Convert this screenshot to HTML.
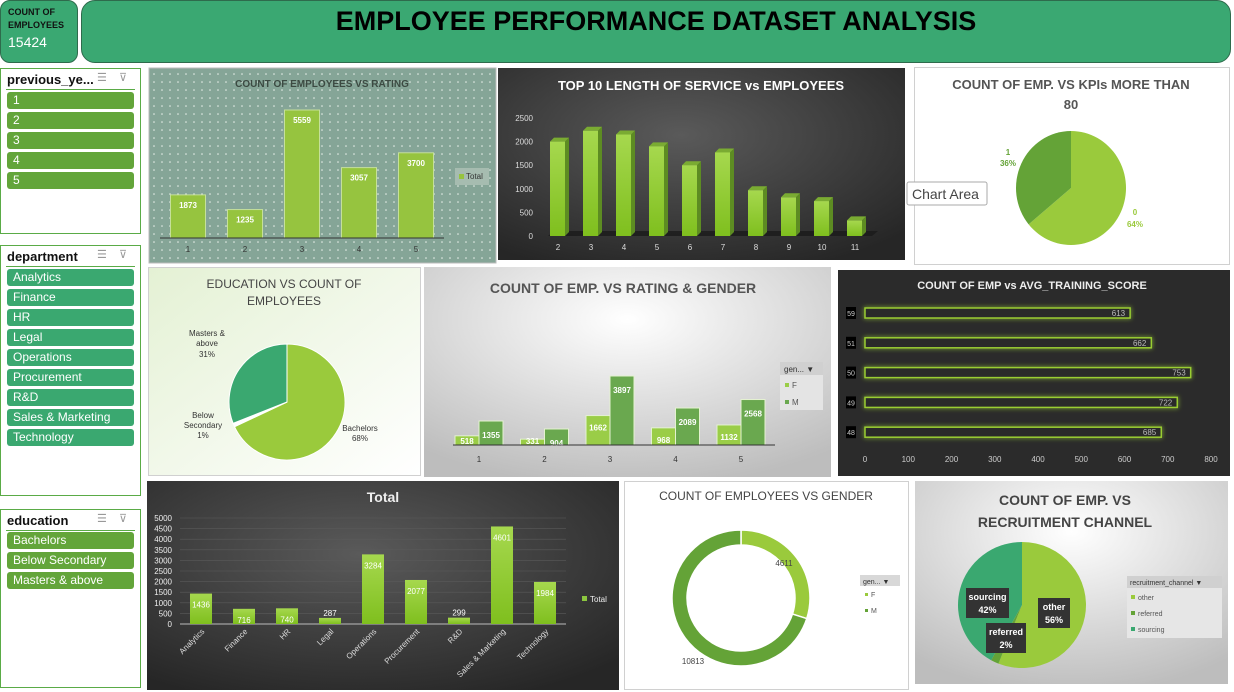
<!DOCTYPE html>
<html><head><meta charset="utf-8">
<style>
body{margin:0;width:1234px;height:692px;overflow:hidden;background:#fff;font-family:"Liberation Sans",sans-serif;position:relative}
.abs{position:absolute}
.slicer{position:absolute;left:0;width:139px;border:1px solid #5aab46;background:#fff}
.slicer .hd{position:absolute;left:6px;top:3px;font-weight:bold;font-size:13px;color:#111}
.slicer .ln{position:absolute;left:5px;right:5px;top:20px;border-top:1px solid #5aab46}
.slicer .ic{position:absolute;top:2px;font-size:11px;color:#999}
.item{position:absolute;left:6px;width:127px;height:17px;border-radius:3px;color:#fff;font-size:12px;line-height:17px;padding-left:6px;box-sizing:border-box}
</style></head><body>
<div class="abs" style="left:0;top:0;width:76px;height:61px;background:#3aa872;border:1px solid #2e6b4c;border-radius:10px;">
 <div style="position:absolute;left:7px;top:5px;font-size:9px;font-weight:bold;line-height:13px;color:#111">COUNT OF<br>EMPLOYEES</div>
 <div style="position:absolute;left:7px;top:33px;font-size:14px;color:#fff">15424</div>
</div>
<div class="abs" style="left:81px;top:0;width:1148px;height:61px;background:#3aa872;border:1px solid #2e6b4c;border-radius:14px;text-align:center;font-weight:bold;font-size:27px;line-height:40px;color:#000">EMPLOYEE PERFORMANCE DATASET ANALYSIS</div>

<div class="slicer" style="top:68px;height:164px">
 <div class="hd">previous_ye...</div>
 <div class="ic" style="left:96px">☰</div>
 <div class="ic" style="left:118px">⊽</div>
 <div class="ln"></div>
 <div class="item" style="top:23px;background:#63a53a">1</div>
 <div class="item" style="top:43px;background:#63a53a">2</div>
 <div class="item" style="top:63px;background:#63a53a">3</div>
 <div class="item" style="top:83px;background:#63a53a">4</div>
 <div class="item" style="top:103px;background:#63a53a">5</div>
</div>
<div class="slicer" style="top:245px;height:249px">
 <div class="hd">department</div>
 <div class="ic" style="left:96px">☰</div>
 <div class="ic" style="left:118px">⊽</div>
 <div class="ln"></div>
 <div class="item" style="top:23px;background:#3aa870">Analytics</div>
 <div class="item" style="top:43px;background:#3aa870">Finance</div>
 <div class="item" style="top:63px;background:#3aa870">HR</div>
 <div class="item" style="top:83px;background:#3aa870">Legal</div>
 <div class="item" style="top:103px;background:#3aa870">Operations</div>
 <div class="item" style="top:123px;background:#3aa870">Procurement</div>
 <div class="item" style="top:143px;background:#3aa870">R&amp;D</div>
 <div class="item" style="top:163px;background:#3aa870">Sales &amp; Marketing</div>
 <div class="item" style="top:183px;background:#3aa870">Technology</div>
</div>
<div class="slicer" style="top:509px;height:177px">
 <div class="hd">education</div>
 <div class="ic" style="left:96px">☰</div>
 <div class="ic" style="left:118px">⊽</div>
 <div class="ln"></div>
 <div class="item" style="top:22px;background:#63a53a">Bachelors</div>
 <div class="item" style="top:42px;background:#63a53a">Below Secondary</div>
 <div class="item" style="top:62px;background:#63a53a">Masters &amp; above</div>
</div>

<svg id="s" class="abs" style="left:0;top:0" width="1234" height="692" xmlns="http://www.w3.org/2000/svg" font-family="Liberation Sans, sans-serif">
<defs>
 <pattern id="dots" width="8" height="8" patternUnits="userSpaceOnUse"><rect width="8" height="8" fill="#85a597"/><circle cx="2" cy="2" r="0.8" fill="#e8f0ea"/></pattern>
 <radialGradient id="dark1" cx="45%" cy="35%" r="75%"><stop offset="0" stop-color="#5a5a5a"/><stop offset="1" stop-color="#262626"/></radialGradient>
 <radialGradient id="gray1" cx="50%" cy="25%" r="80%"><stop offset="0" stop-color="#ffffff"/><stop offset="1" stop-color="#bdbdbd"/></radialGradient>
 <linearGradient id="lg1" x1="0" y1="0" x2="1" y2="1"><stop offset="0" stop-color="#e4f1d4"/><stop offset="1" stop-color="#ffffff"/></linearGradient>
 <linearGradient id="barg" x1="0" y1="0" x2="0" y2="1"><stop offset="0" stop-color="#a6d84e"/><stop offset="1" stop-color="#7fbf1e"/></linearGradient>
 <filter id="glow" x="-10%" y="-80%" width="120%" height="260%"><feGaussianBlur stdDeviation="2.5" result="b"/><feMerge><feMergeNode in="b"/><feMergeNode in="SourceGraphic"/></feMerge></filter>
</defs>
<rect x="149" y="68" width="347" height="195" fill="url(#dots)" stroke="#bbb"/>
<rect x="498" y="68" width="407" height="192" fill="url(#dark1)"/>
<rect x="914.5" y="67.5" width="315" height="197" fill="#fff" stroke="#d0d0d0"/>
<rect x="148.5" y="267.5" width="272" height="208" fill="url(#lg1)" stroke="#d0d0d0"/>
<rect x="424" y="267" width="407" height="210" fill="url(#gray1)"/>
<rect x="838" y="270" width="392" height="206" fill="#2b2b2b"/>
<rect x="147" y="481" width="472" height="209" fill="url(#dark1)"/>
<rect x="624.5" y="481.5" width="284" height="208" fill="#fff" stroke="#d0d0d0"/>
<rect x="915" y="481" width="313" height="203" fill="url(#gray1)"/>

<text x="322" y="87" text-anchor="middle" font-size="10" font-weight="bold" fill="#3c4a42">COUNT OF EMPLOYEES VS RATING</text>
<text x="701" y="90" text-anchor="middle" font-size="13" font-weight="bold" fill="#fff">TOP 10 LENGTH OF SERVICE vs EMPLOYEES</text>
<text x="1071" y="89" text-anchor="middle" font-size="13" font-weight="bold" fill="#555">COUNT OF EMP. VS KPIs MORE THAN</text>
<text x="1071" y="109" text-anchor="middle" font-size="13" font-weight="bold" fill="#555">80</text>
<text x="284" y="288" text-anchor="middle" font-size="12" fill="#444">EDUCATION VS COUNT OF</text>
<text x="284" y="305" text-anchor="middle" font-size="12" fill="#444">EMPLOYEES</text>
<text x="623" y="293" text-anchor="middle" font-size="14" font-weight="bold" fill="#555">COUNT OF EMP. VS RATING &amp; GENDER</text>
<text x="1032" y="289" text-anchor="middle" font-size="11" font-weight="bold" fill="#eee">COUNT OF EMP vs AVG_TRAINING_SCORE</text>
<text x="383" y="502" text-anchor="middle" font-size="14" font-weight="bold" fill="#eee">Total</text>
<text x="766" y="500" text-anchor="middle" font-size="12" fill="#444">COUNT OF EMPLOYEES VS GENDER</text>
<text x="1065" y="505" text-anchor="middle" font-size="14" font-weight="bold" fill="#444">COUNT OF EMP. VS</text>
<text x="1065" y="527" text-anchor="middle" font-size="14" font-weight="bold" fill="#444">RECRUITMENT CHANNEL</text>
<g id="layer"></g>
</svg>

<script>
// ---- data ----
const ratingCats = ["1","2","3","4","5"];
const ratingVals = [1873,1235,5559,3057,3700];
const serviceCats = ["2","3","4","5","6","7","8","9","10","11"];
const serviceVals = [2000,2230,2150,1900,1500,1770,970,820,740,330];
const serviceTicks = [0,500,1000,1500,2000,2500];
const kpiCats = ["0","1"];
const kpiVals = [64,36];
const eduCats = ["Bachelors","Below Secondary","Masters & above"];
const eduVals = [68,1,31];
const grCats = ["1","2","3","4","5"];
const grF = [518,331,1662,968,1132];
const grM = [1355,904,3897,2089,2568];
const trainCats = ["59","51","50","49","48"];
const trainVals = [613,662,753,722,685];
const trainTicks = [0,100,200,300,400,500,600,700,800];
const deptCats = ["Analytics","Finance","HR","Legal","Operations","Procurement","R&D","Sales & Marketing","Technology"];
const deptVals = [1436,716,740,287,3284,2077,299,4601,1984];
const deptTicks = [0,500,1000,1500,2000,2500,3000,3500,4000,4500,5000];
const genderCats = ["F","M"];
const genderVals = [4611,10813];
const recCats = ["other","referred","sourcing"];
const recVals = [56,2,42];

const NS="http://www.w3.org/2000/svg";
const layer=document.getElementById('layer');
function mk(tag,attrs,txt){const e=document.createElementNS(NS,tag);for(const k in attrs)e.setAttribute(k,attrs[k]);if(txt!==undefined)e.textContent=txt;layer.appendChild(e);return e;}
function arcPath(cx,cy,rx,ry,f0,f1,ir){
  const a0=f0*2*Math.PI-Math.PI/2,a1=f1*2*Math.PI-Math.PI/2,lg=(f1-f0)>0.5?1:0;
  const p=(a,r1,r2)=>[cx+r1*Math.cos(a),cy+r2*Math.sin(a)];
  const [x0,y0]=p(a0,rx,ry),[x1,y1]=p(a1,rx,ry);
  if(!ir) return `M${cx},${cy}L${x0},${y0}A${rx},${ry} 0 ${lg} 1 ${x1},${y1}Z`;
  const irx=rx-ir,iry=ry-ir;const [x2,y2]=p(a1,irx,iry),[x3,y3]=p(a0,irx,iry);
  return `M${x0},${y0}A${rx},${ry} 0 ${lg} 1 ${x1},${y1}L${x2},${y2}A${irx},${iry} 0 ${lg} 0 ${x3},${y3}Z`;
}

// ---- chart 1: rating ----
(function(){
  const base=238, h=v=>v*128/5559, x0=160, step=57;
  const cx=i=>x0+28+i*step;
  ratingCats.forEach((c,i)=>{
    const v=ratingVals[i];
    const r=mk('rect',{x:cx(i)-17.5,y:base-h(v),width:35,height:h(v),fill:'#96c43f',stroke:'#c5e09a'});
    
    
    mk('text',{x:cx(i),y:base-h(v)+13,'text-anchor':'middle','font-size':8,'font-weight':'bold',fill:'#fff'},v);
    mk('text',{x:cx(i),y:252,'text-anchor':'middle','font-size':8,fill:'#333'},c);
  });
  mk('line',{x1:160,y1:base,x2:444,y2:base,stroke:'#333','stroke-width':1});
  const lg=mk('rect',{x:455,y:168,width:34,height:17,fill:'#a6bcb0'});
  
  
  mk('rect',{x:459,y:174,width:5,height:5,fill:'#96c43f'});
  mk('text',{x:466,y:179,'font-size':8,fill:'#333'},'Total');
})();

// ---- chart 2: service 3D bars ----
(function(){
  const base=236, h=v=>v*118/2500, cx=i=>558+i*33;
  mk('path',{d:`M548,${base}L872,${base}L878,${base-5}L554,${base-5}Z`,fill:'#1a1a1a',opacity:0.8});
  serviceTicks.forEach(t=>mk('text',{x:533,y:base-h(t)+3,'text-anchor':'end','font-size':8,fill:'#ddd'},t));
  serviceCats.forEach((c,i)=>{
    const v=serviceVals[i],x=cx(i)-8,y=base-h(v);
    mk('path',{d:`M${x+15},${y}L${x+19},${y-4}L${x+19},${base-4}L${x+15},${base}Z`,fill:'#5d8c22'});
    mk('path',{d:`M${x},${y}L${x+4},${y-4}L${x+19},${y-4}L${x+15},${y}Z`,fill:'#7aab32'});
    const r=mk('rect',{x:x,y:y,width:15,height:h(v),fill:'url(#barg)'});
    
    
    mk('text',{x:cx(i),y:250,'text-anchor':'middle','font-size':8,fill:'#ddd'},c);
  });
})();

// ---- chart 3: KPI pie ----
(function(){
  const tot=kpiVals.reduce((a,b)=>a+b,0);
  const s0=mk('path',{d:arcPath(1071,188,55,57,0,kpiVals[0]/tot),fill:'#9aca3c'});
  
  
  const s1=mk('path',{d:arcPath(1071,188,55,57,kpiVals[0]/tot,1),fill:'#64a337'});
  
  
  mk('text',{x:1008,y:155,'text-anchor':'middle','font-size':8,'font-weight':'bold',fill:'#64a337'},kpiCats[1]);
  mk('text',{x:1008,y:166,'text-anchor':'middle','font-size':8,'font-weight':'bold',fill:'#64a337'},kpiVals[1]+'%');
  mk('text',{x:1135,y:215,'text-anchor':'middle','font-size':8,'font-weight':'bold',fill:'#9aca3c'},kpiCats[0]);
  mk('text',{x:1135,y:227,'text-anchor':'middle','font-size':8,'font-weight':'bold',fill:'#9aca3c'},kpiVals[0]+'%');
  const tt=mk('rect',{x:907,y:182,width:80,height:23,fill:'#fff',stroke:'#aaa',rx:2});
  
  
  mk('text',{x:912,y:199,'font-size':14,fill:'#444'},'Chart Area');
})();

// ---- chart 4: education pie ----
(function(){
  const tot=eduVals.reduce((a,b)=>a+b,0);const cols=['#9aca3c','#ffffff','#3aa870'];
  let f=0;
  eduCats.forEach((c,i)=>{
    const f1=f+eduVals[i]/tot;
    const p=mk('path',{d:arcPath(287,402,58,58,f,f1),fill:cols[i],stroke:'#fff','stroke-width':1});
    
    
    f=f1;
  });
  mk('text',{x:360,y:431,'text-anchor':'middle','font-size':8,fill:'#333'},'Bachelors');
  mk('text',{x:360,y:441,'text-anchor':'middle','font-size':8,fill:'#333'},eduVals[0]+'%');
  mk('text',{x:203,y:418,'text-anchor':'middle','font-size':8,fill:'#333'},'Below');
  mk('text',{x:203,y:428,'text-anchor':'middle','font-size':8,fill:'#333'},'Secondary');
  mk('text',{x:203,y:438,'text-anchor':'middle','font-size':8,fill:'#333'},eduVals[1]+'%');
  mk('text',{x:207,y:336,'text-anchor':'middle','font-size':8,fill:'#333'},'Masters &');
  mk('text',{x:207,y:346,'text-anchor':'middle','font-size':8,fill:'#333'},'above');
  mk('text',{x:207,y:357,'text-anchor':'middle','font-size':8,fill:'#333'},eduVals[2]+'%');
})();

// ---- chart 5: rating & gender ----
(function(){
  const base=445,h=v=>v*69/3897,cx=i=>479+i*65.5;
  grCats.forEach((c,i)=>{
    const f=mk('rect',{x:cx(i)-24,y:base-h(grF[i]),width:24,height:h(grF[i]),fill:'#9acd47',stroke:'#e4f2d0'});
    
    
    const m=mk('rect',{x:cx(i),y:base-h(grM[i]),width:24,height:h(grM[i]),fill:'#6aa84f',stroke:'#e4f2d0'});
    
    
    mk('text',{x:cx(i)-12,y:base-h(grF[i])+Math.min(15,h(grF[i])-1),'text-anchor':'middle','font-size':8,'font-weight':'bold',fill:'#fff'},grF[i]);
    mk('text',{x:cx(i)+12,y:base-h(grM[i])+17,'text-anchor':'middle','font-size':8,'font-weight':'bold',fill:'#fff'},grM[i]);
    mk('text',{x:cx(i),y:462,'text-anchor':'middle','font-size':8,fill:'#333'},c);
  });
  mk('line',{x1:453,y1:base,x2:775,y2:base,stroke:'#333'});
  const lg=mk('rect',{x:780,y:362,width:43,height:48,fill:'#e4e4e4'});
  
  
  mk('rect',{x:780,y:362,width:43,height:13,fill:'#d0d0d0'});
  mk('text',{x:784,y:372,'font-size':8,fill:'#333'},'gen... ▼');
  mk('rect',{x:785,y:383,width:4,height:4,fill:'#9acd47'});mk('text',{x:792,y:388,'font-size':8,fill:'#555'},'F');
  mk('rect',{x:785,y:400,width:4,height:4,fill:'#6aa84f'});mk('text',{x:792,y:405,'font-size':8,fill:'#555'},'M');
})();

// ---- chart 6: training score ----
(function(){
  const x0=865,w=v=>v*346/800,cy=i=>313+i*29.8;
  trainTicks.forEach(t=>mk('text',{x:x0+w(t),y:462,'text-anchor':'middle','font-size':8,fill:'#ccc'},t));
  trainCats.forEach((c,i)=>{
    const r=mk('rect',{x:x0,y:cy(i)-5,width:w(trainVals[i]),height:10,fill:'#2b2b2b',stroke:'#9acd32','stroke-width':1.5,filter:'url(#glow)'});
    
    
    mk('text',{x:x0+w(trainVals[i])-5,y:cy(i)+3,'text-anchor':'end','font-size':8,fill:'#bbb'},trainVals[i]);
    mk('rect',{x:846,y:cy(i)-6,width:10,height:12,fill:'#000'});
    mk('text',{x:851,y:cy(i)+3,'text-anchor':'middle','font-size':7,fill:'#ccc'},c);
  });
})();

// ---- chart 7: department ----
(function(){
  const base=624,h=v=>v*106/5000,cx=i=>201+i*43;
  deptTicks.forEach(t=>{
    mk('line',{x1:180,y1:base-h(t),x2:566,y2:base-h(t),stroke:'#5a5a5a','stroke-width':0.6});
    mk('text',{x:172,y:base-h(t)+3,'text-anchor':'end','font-size':8,fill:'#eee'},t);
  });
  mk('line',{x1:180,y1:base,x2:566,y2:base,stroke:'#bbb'});
  deptCats.forEach((c,i)=>{
    const v=deptVals[i];
    const r=mk('rect',{x:cx(i)-11,y:base-h(v),width:22,height:h(v),fill:'url(#barg)'});
    
    
    const small=h(v)<15;
    mk('text',{x:cx(i),y:small?base-h(v)-2:base-h(v)+14,'text-anchor':'middle','font-size':8,fill:'#fff'},v);
    mk('text',{x:cx(i)+4,y:base+8,'text-anchor':'end','font-size':8,fill:'#ddd',transform:`rotate(-45 ${cx(i)+4} ${base+8})`},c);
  });
  mk('rect',{x:582,y:596,width:5,height:5,fill:'#8cc63f'});
  mk('text',{x:590,y:602,'font-size':8,fill:'#eee'},'Total');
})();

// ---- chart 8: gender donut ----
(function(){
  const tot=genderVals.reduce((a,b)=>a+b,0);const cols=['#9aca3c','#64a337'];let f=0;
  genderCats.forEach((c,i)=>{
    const f1=f+genderVals[i]/tot;
    const p=mk('path',{d:arcPath(741,598,69,68,f,f1,15),fill:cols[i],stroke:'#fff','stroke-width':1.5});
    
    
    f=f1;
  });
  mk('text',{x:784,y:566,'text-anchor':'middle','font-size':8,fill:'#444'},genderVals[0]);
  mk('text',{x:693,y:664,'text-anchor':'middle','font-size':8,fill:'#444'},genderVals[1]);
  const lg=mk('rect',{x:860,y:575,width:40,height:11,fill:'#d8d8d8'});
  
  
  mk('text',{x:863,y:584,'font-size':7,fill:'#333'},'gen... ▼');
  mk('rect',{x:865,y:593,width:3,height:3,fill:'#9aca3c'});mk('text',{x:871,y:597,'font-size':7,fill:'#555'},'F');
  mk('rect',{x:865,y:609,width:3,height:3,fill:'#64a337'});mk('text',{x:871,y:613,'font-size':7,fill:'#555'},'M');
})();

// ---- chart 9: recruitment pie ----
(function(){
  const tot=recVals.reduce((a,b)=>a+b,0);const cols=['#9aca3c','#64a337','#3aa870'];let f=0;
  recCats.forEach((c,i)=>{
    const f1=f+recVals[i]/tot;
    const p=mk('path',{d:arcPath(1022,605,64,63,f,f1),fill:cols[i]});
    
    
    f=f1;
  });
  const box=(x,y,w,l1,l2)=>{mk('rect',{x:x,y:y,width:w,height:30,fill:'#333'});
    mk('text',{x:x+w/2,y:y+12,'text-anchor':'middle','font-size':9,'font-weight':'bold',fill:'#fff'},l1);
    mk('text',{x:x+w/2,y:y+25,'text-anchor':'middle','font-size':9,'font-weight':'bold',fill:'#fff'},l2);};
  box(966,588,43,recCats[2],recVals[2]+'%');
  box(1038,598,32,recCats[0],recVals[0]+'%');
  box(986,623,40,recCats[1],recVals[1]+'%');
  const lg=mk('rect',{x:1127,y:576,width:95,height:62,fill:'#e6e6e6'});
  
  
  mk('rect',{x:1127,y:576,width:95,height:12,fill:'#d0d0d0'});
  mk('text',{x:1130,y:585,'font-size':7,fill:'#333'},'recruitment_channel  ▼');
  recCats.forEach((c,i)=>{mk('rect',{x:1131,y:595+i*16,width:4,height:4,fill:cols[i]});
    mk('text',{x:1138,y:600+i*16,'font-size':7,fill:'#555'},c);});
})();
</script>
</body></html>
